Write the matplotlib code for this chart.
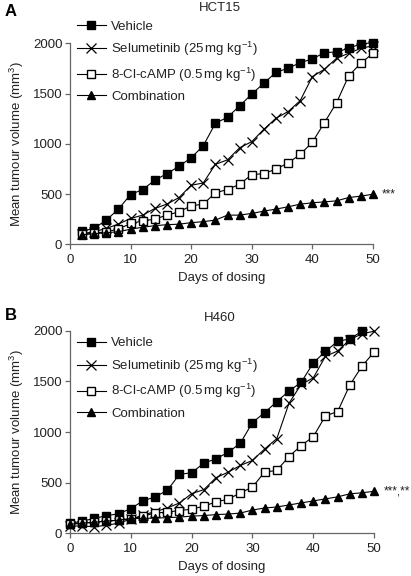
import numpy as np
import matplotlib
matplotlib.use("Agg")
import matplotlib.pyplot as plt

plt.rcParams['font.family'] = ['Liberation Sans', 'DejaVu Sans']
plt.rcParams['mathtext.fontset'] = 'custom'
plt.rcParams['mathtext.rm'] = 'Liberation Sans'
plt.rcParams['mathtext.it'] = 'Liberation Sans:italic'

# panel A: HCT15, days 2..50
days_a = list(range(2, 51, 2))
vehicle_a = [130, 160, 241, 350, 495, 545, 637, 703, 776, 861, 980, 1204, 1264, 1376,
             1495, 1602, 1711, 1751, 1807, 1844, 1907, 1913, 1950, 1993, 2006]
selumetinib_a = [105, 125, 158, 201, 257, 290, 356, 400, 465, 587, 610, 795, 840, 960,
                 1021, 1144, 1254, 1320, 1429, 1668, 1741, 1851, 1900, 1950, 1975]
camp_a = [100, 110, 125, 150, 208, 231, 251, 290, 323, 383, 399, 512, 545, 597,
          693, 703, 748, 809, 894, 1015, 1210, 1409, 1675, 1801, 1900]
combo_a = [95, 105, 115, 125, 150, 170, 185, 195, 200, 215, 225, 241, 290, 290,
           307, 330, 350, 373, 399, 413, 422, 432, 465, 479, 498]

# panel B: H460, days 0..50 (vehicle stops at day 48)
days_b = list(range(0, 51, 2))
vehicle_b = [98, 120, 147, 175, 192, 245, 320, 360, 425, 582, 598, 693, 735, 800,
             889, 1094, 1192, 1300, 1405, 1490, 1682, 1797, 1895, 1920, 1995]
selumetinib_b = [72, 72, 65, 80, 100, 140, 180, 215, 250, 300, 392, 431, 549, 604,
                 670, 719, 833, 935, 1284, 1470, 1535, 1748, 1800, 1912, 1970, 1995]
camp_b = [90, 100, 110, 120, 130, 140, 170, 200, 210, 225, 238, 268, 310, 337,
          399, 457, 605, 621, 758, 866, 954, 1160, 1202, 1464, 1650, 1790]
combo_b = [90, 100, 110, 120, 130, 147, 147, 150, 155, 160, 170, 175, 185, 190,
           200, 230, 250, 260, 280, 300, 320, 340, 360, 390, 400, 415]

labels = ["Vehicle",
          r"Selumetinib (25$\,$mg kg$^{-1}$)",
          r"8-Cl-cAMP (0.5$\,$mg kg$^{-1}$)",
          "Combination"]
styles = [dict(marker='s', mfc='black', ms=5.2),
          dict(marker='x', mfc='black', ms=7, mew=0.9),
          dict(marker='s', mfc='white', ms=5.2),
          dict(marker='^', mfc='black', ms=6)]

spine_col = '#666666'
txt_col = '#222222'
fs = 9.5


def panel(ax, series, stars, legend_y):
    for (x, y), lab, st in zip(series, labels, styles):
        ax.plot(x, y, color='black', lw=0.8, mec='black', label=lab,
                clip_on=False, zorder=3, **st)
    ax.set_xlim(0, 50)
    ax.set_ylim(0, 2000)
    ax.set_xticks([0, 10, 20, 30, 40, 50])
    ax.set_yticks([0, 500, 1000, 1500, 2000])
    for s in ['top', 'right']:
        ax.spines[s].set_visible(False)
    for s in ['left', 'bottom']:
        ax.spines[s].set_color(spine_col)
        ax.spines[s].set_linewidth(0.9)
    ax.tick_params(direction='out', length=3.5, width=0.9, color=spine_col,
                   labelsize=fs, pad=2, labelcolor=txt_col)
    ax.tick_params(axis='x', pad=3.5)
    ax.set_xlabel("Days of dosing", fontsize=fs, labelpad=4, color=txt_col)
    ax.set_ylabel(r"Mean tumour volume (mm$^3$)", fontsize=fs, labelpad=5,
                  color=txt_col)
    ax.text(51.5, series[3][1][-1], stars, fontsize=8.5, va='center', ha='left',
            color=txt_col)
    leg = ax.legend(loc='upper left', bbox_to_anchor=(0.005, legend_y),
                    frameon=False, fontsize=fs, handlelength=2.2,
                    handletextpad=0.4, labelspacing=0.55, borderaxespad=0)
    for t in leg.get_texts():
        t.set_color(txt_col)


fig = plt.figure(figsize=(4.11, 5.76), dpi=100)
ax_a = fig.add_axes([0.1703, 0.5759, 0.737, 0.349])
ax_b = fig.add_axes([0.1703, 0.0741, 0.740, 0.3517])

panel(ax_a, [(days_a, vehicle_a), (days_a, selumetinib_a), (days_a, camp_a),
             (days_a, combo_a)], "***", 1.14)
panel(ax_b, [(days_b[:-1], vehicle_b), (days_b, selumetinib_b), (days_b, camp_b),
             (days_b, combo_b)], "***,**", 0.995)

fig.text(220 / 411, 1 - 8 / 576, "HCT15", fontsize=fs, ha='center', va='center',
         color=txt_col)
fig.text(220 / 411, 1 - 318 / 576, "H460", fontsize=fs, ha='center', va='center',
         color=txt_col)
fig.text(5 / 411, 1 - 11 / 576, "A", fontsize=12, fontweight='bold', ha='left',
         va='center')
fig.text(5 / 411, 1 - 315 / 576, "B", fontsize=12, fontweight='bold', ha='left',
         va='center')

fig.savefig("out.png", dpi=100)
